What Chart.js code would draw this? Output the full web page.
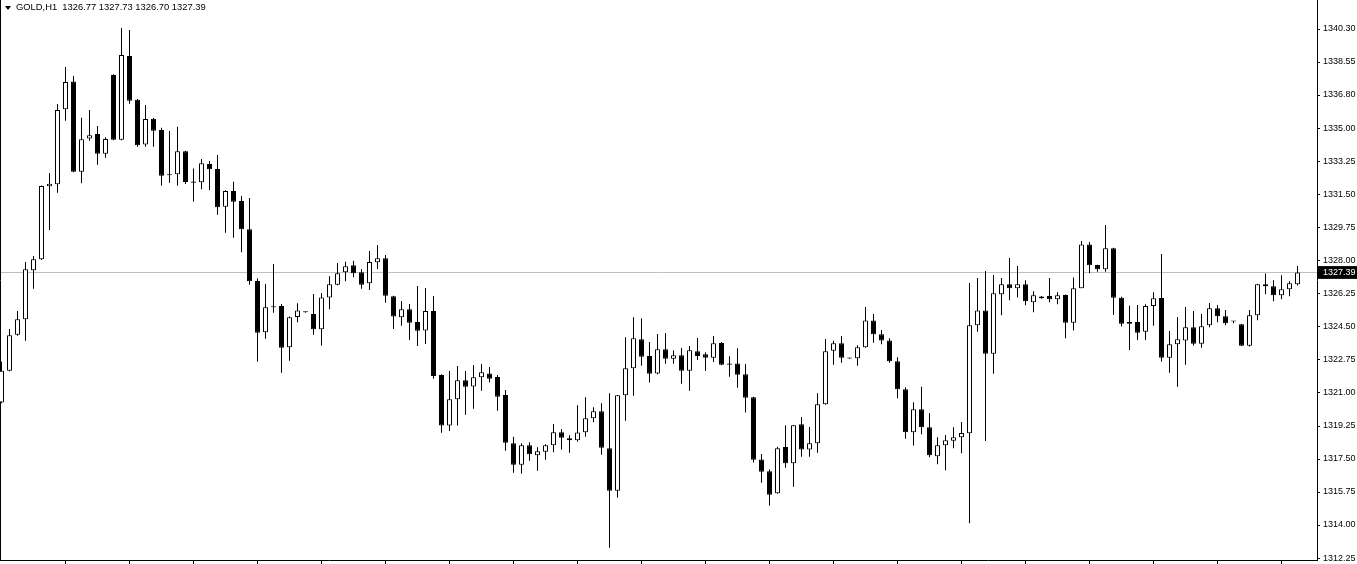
<!DOCTYPE html>
<html>
<head>
<meta charset="utf-8">
<script src="https://cdn.jsdelivr.net/npm/chart.js@4.4.1/dist/chart.umd.min.js"></script>
<style>
html,body{margin:0;padding:0;background:#fff;overflow:hidden}
#wrap{position:relative;width:1357px;height:564px}
#c{position:absolute;left:0;top:0}
#tri{position:absolute;left:5px;top:6px;width:0;height:0;border-left:3px solid transparent;border-right:3px solid transparent;border-top:4px solid #000}
#ttl{position:absolute;left:16px;top:1.5px;font:9.4px "Liberation Sans",Arial,sans-serif;line-height:10px;color:#000;white-space:pre}
</style>
</head>
<body>
<div id="wrap">
<canvas id="c" width="1357" height="564"></canvas>
<div id="tri"></div>
<div id="ttl"></div>
</div>
<script>
const symbol = 'GOLD,H1';

const opens = [
1320.49,1322.18,1324.09,1324.91,1327.51,1328.09,1331.96,1332.07,1336.04,1337.51,
1332.73,1334.50,1334.73,1333.69,1337.86,1334.43,1338.87,1336.55,1334.17,1335.54,
1334.94,1332.60,1332.60,1333.82,1332.22,1332.17,1333.14,1332.88,1330.88,1331.71,
1331.18,1329.68,1326.94,1324.22,1325.58,1325.61,1323.42,1325.03,1325.28,1325.19,
1324.38,1326.07,1326.74,1327.40,1327.77,1327.40,1326.82,1327.93,1328.14,1326.13,
1325.01,1325.44,1324.76,1324.32,1325.35,1321.95,1319.27,1320.67,1321.67,1321.35,
1321.83,1322.04,1321.85,1320.89,1318.33,1317.20,1318.23,1317.70,1317.89,1318.23,
1318.92,1318.60,1318.49,1318.92,1319.66,1320.03,1318.07,1315.82,1320.88,1322.31,
1323.85,1322.96,1322.04,1323.32,1322.82,1323.00,1322.18,1323.21,1323.05,1322.87,
1323.65,1322.56,1322.57,1321.99,1320.77,1317.48,1316.85,1315.68,1318.14,1317.27,
1319.34,1318.01,1318.33,1320.40,1323.24,1323.64,1322.84,1322.84,1323.42,1324.85,
1324.11,1323.79,1322.68,1321.20,1318.92,1320.14,1319.18,1317.64,1318.23,1318.47,
1318.65,1318.86,1324.59,1325.38,1323.08,1326.23,1326.76,1326.55,1326.76,1325.81,
1326.02,1326.14,1325.97,1326.20,1324.73,1326.55,1328.88,1327.79,1327.56,1328.67,
1326.05,1324.76,1324.76,1324.25,1325.61,1326.04,1322.87,1323.58,1323.79,1324.48,
1323.61,1324.59,1325.49,1325.07,1324.81,1324.64,1323.51,1325.12,1326.76,1326.66,
1326.18,1326.50,1326.77
];
const highs = [
1322.66,1324.39,1325.35,1327.95,1328.26,1332.00,1332.66,1336.32,1338.29,1337.81,
1335.60,1336.01,1335.16,1334.56,1337.90,1340.35,1340.25,1336.59,1336.27,1335.58,
1335.07,1334.89,1335.12,1333.85,1332.91,1333.41,1333.30,1333.62,1331.75,1332.20,
1331.45,1331.34,1327.08,1326.78,1327.84,1325.72,1325.05,1325.76,1325.32,1326.25,
1326.30,1327.19,1327.89,1327.96,1328.01,1327.57,1328.53,1328.85,1328.32,1326.15,
1325.88,1325.72,1326.67,1326.57,1326.14,1322.00,1322.17,1322.43,1322.17,1322.48,
1322.54,1322.38,1321.95,1321.16,1318.68,1318.33,1318.39,1318.12,1318.28,1319.36,
1319.09,1318.76,1320.35,1320.77,1320.24,1320.45,1320.98,1320.90,1323.95,1325.01,
1324.96,1323.70,1324.13,1324.18,1323.26,1323.39,1323.49,1323.92,1323.16,1324.02,
1323.70,1322.95,1323.37,1322.54,1320.80,1317.77,1316.95,1318.15,1319.29,1319.30,
1319.73,1319.20,1320.99,1323.86,1323.77,1324.02,1322.86,1323.53,1325.56,1325.19,
1324.34,1323.90,1322.89,1321.30,1320.51,1321.33,1319.94,1318.65,1318.77,1319.18,
1319.46,1326.83,1327.10,1327.47,1327.26,1327.10,1328.16,1327.73,1326.98,1326.39,
1326.14,1327.10,1326.34,1326.22,1327.13,1329.06,1329.01,1327.80,1329.91,1328.70,
1326.10,1325.63,1325.67,1325.70,1326.34,1328.37,1324.29,1325.03,1325.56,1325.35,
1325.19,1325.77,1325.67,1325.40,1324.82,1324.66,1325.40,1326.78,1327.33,1326.98,
1327.24,1326.93,1327.73
];
const lows = [
1320.45,1322.15,1324.04,1323.77,1326.53,1328.05,1329.64,1331.62,1335.44,1332.70,
1332.12,1334.38,1333.10,1333.48,1334.40,1334.40,1336.34,1334.06,1334.06,1334.06,
1331.99,1332.15,1331.99,1332.08,1331.14,1331.80,1331.76,1330.45,1329.50,1329.23,
1328.46,1326.74,1322.66,1323.88,1325.26,1322.08,1322.71,1324.75,1325.25,1324.09,
1323.51,1325.44,1326.71,1326.92,1327.14,1326.53,1326.46,1327.57,1325.79,1324.39,
1324.57,1323.81,1323.49,1323.60,1321.76,1318.89,1318.99,1319.27,1319.85,1320.17,
1321.12,1321.55,1320.06,1317.94,1316.77,1316.72,1317.41,1316.88,1317.46,1317.86,
1317.99,1317.83,1318.42,1318.68,1319.45,1317.73,1312.80,1315.45,1319.53,1320.86,
1322.45,1321.55,1322.00,1322.55,1322.55,1321.49,1321.12,1322.75,1322.17,1322.64,
1322.47,1321.86,1321.28,1319.96,1317.31,1316.24,1315.02,1315.66,1317.04,1316.03,
1317.62,1317.62,1317.83,1320.38,1322.50,1322.61,1322.82,1322.45,1323.40,1323.67,
1323.58,1322.61,1320.72,1318.58,1318.21,1318.81,1317.59,1317.22,1316.90,1318.07,
1317.80,1314.09,1324.25,1318.45,1322.02,1325.12,1325.92,1326.07,1325.65,1325.28,
1326.00,1325.81,1325.70,1323.90,1324.32,1326.55,1327.35,1327.43,1327.43,1325.14,
1324.52,1323.28,1323.81,1323.81,1324.57,1322.66,1322.08,1321.33,1322.50,1323.51,
1323.40,1324.48,1324.75,1324.59,1324.70,1323.49,1323.46,1324.86,1326.23,1325.86,
1325.97,1326.13,1326.70
];
const closes = [
1322.18,1324.06,1324.91,1327.56,1328.09,1331.98,1332.10,1336.01,1337.49,1332.73,
1334.45,1334.66,1333.69,1334.47,1334.43,1338.92,1336.50,1334.13,1335.53,1334.91,
1332.52,1332.55,1333.82,1332.19,1332.15,1333.18,1332.86,1330.85,1331.71,1331.14,
1329.68,1326.92,1324.20,1325.54,1325.55,1323.40,1325.01,1325.38,1325.30,1324.38,
1326.07,1326.76,1327.35,1327.72,1327.35,1326.74,1327.95,1328.14,1326.16,1325.05,
1325.44,1324.73,1324.30,1325.35,1321.90,1319.27,1320.67,1321.67,1321.33,1321.83,
1322.10,1321.76,1320.80,1318.36,1317.20,1318.23,1317.75,1317.91,1318.23,1318.92,
1318.63,1318.49,1318.90,1319.66,1320.03,1318.10,1315.82,1320.88,1322.31,1323.90,
1322.92,1322.02,1323.32,1322.82,1323.00,1322.18,1323.26,1322.96,1322.87,1323.64,
1322.50,1322.50,1321.97,1320.75,1317.46,1316.83,1315.61,1318.07,1317.27,1319.29,
1318.01,1318.33,1320.40,1323.21,1323.64,1322.87,1322.83,1323.42,1324.85,1324.11,
1323.79,1322.68,1321.20,1318.92,1320.14,1319.18,1317.70,1318.23,1318.49,1318.65,
1318.88,1324.59,1325.38,1323.08,1326.29,1326.76,1326.55,1326.76,1325.86,1326.18,
1326.12,1325.97,1326.18,1324.73,1326.55,1328.88,1327.77,1327.56,1328.67,1326.05,
1324.67,1324.67,1324.20,1325.61,1326.02,1322.87,1323.58,1323.85,1324.48,1323.61,
1324.54,1325.49,1325.07,1324.70,1324.79,1323.51,1325.12,1326.76,1326.66,1326.18,
1326.50,1326.82,1327.39
];

const priceTicks = [1340.30,1338.55,1336.80,1335.00,1333.25,1331.50,1329.75,1328.00,
  1326.25,1324.50,1322.75,1321.00,1319.25,1317.50,1315.75,1314.00,1312.25];
const currentPrice = closes[closes.length - 1];
const barsPerTimeTick = 8;
const priceMin = 1312.145;
const priceMax = 1341.838;

const n = opens.length;
const last = n - 1;
document.getElementById('ttl').textContent =
  symbol + '  ' + [opens[last], highs[last], lows[last], closes[last]].map(v => v.toFixed(2)).join(' ');

const idx = opens.map((_, i) => i);
const wickData = idx.map(i => ({x: i, y: [lows[i], highs[i]]}));
const bodyData = idx.map(i => ({x: i, y: [Math.min(opens[i], closes[i]), Math.max(opens[i], closes[i])]}));
const isUp = i => i !== undefined && closes[i] > opens[i];

const timeTicks = [];
for (let i = barsPerTimeTick; i < n; i += barsPerTimeTick) timeTicks.push(i);

const zeroPad = s => { s.paddingLeft = 0; s.paddingRight = 0; s.paddingTop = 0; s.paddingBottom = 0; };
const isCur = c => c.tick && Math.abs(c.tick.value - currentPrice) < 1e-9;

new Chart(document.getElementById('c'), {
  type: 'bar',
  data: {
    datasets: [
      {
        label: 'body', data: bodyData, order: 1, grouped: false,
        barThickness: 5, maxBarThickness: 5, minBarLength: 1,
        borderWidth: 1, borderSkipped: false, inflateAmount: 0, borderRadius: 0,
        borderColor: '#000',
        backgroundColor: c => isUp(c.dataIndex) ? '#fff' : '#000'
      },
      {
        label: 'wick', data: wickData, order: 2, grouped: false,
        barThickness: 1, maxBarThickness: 1, minBarLength: 1,
        borderWidth: 0, inflateAmount: 0, backgroundColor: '#000'
      }
    ]
  },
  options: {
    responsive: false,
    animation: false,
    devicePixelRatio: 1,
    layout: { padding: 0 },
    events: [],
    plugins: { legend: { display: false }, tooltip: { enabled: false } },
    scales: {
      x: {
        type: 'linear', position: 'bottom', offset: false, bounds: 'data',
        min: -(1.5 / 8), max: 164.4375,
        afterBuildTicks: s => { s.ticks = timeTicks.map(v => ({value: v})); },
        afterFit: s => { s.height = 4; zeroPad(s); },
        ticks: { display: false },
        grid: { offset: false, drawOnChartArea: false, drawTicks: true, tickLength: 4, color: '#000', lineWidth: 1 },
        border: { display: true, color: '#000', width: 1 }
      },
      y: {
        type: 'linear', position: 'right', bounds: 'data', beginAtZero: false,
        min: priceMin, max: priceMax,
        afterBuildTicks: s => { s.ticks = priceTicks.concat([currentPrice]).map(v => ({value: v})); },
        afterFit: s => { s.width = 40; zeroPad(s); },
        ticks: {
          autoSkip: false,
          padding: 3,
          font: { family: 'Liberation Sans', size: 9 },
          color: c => isCur(c) ? '#fff' : '#000',
          showLabelBackdrop: c => isCur(c),
          backdropColor: '#000',
          backdropPadding: { top: 1, bottom: 1, left: 5, right: 2 },
          callback: v => Number(v).toFixed(2)
        },
        grid: {
          drawOnChartArea: true, drawTicks: true, tickLength: 3, lineWidth: 1,
          color: c => isCur(c) ? '#c0c0c0' : 'rgba(0,0,0,0)',
          tickColor: c => isCur(c) ? 'rgba(0,0,0,0)' : '#000'
        },
        border: { display: true, color: '#000', width: 1 }
      },
      yl: {
        type: 'linear', position: 'left', display: true,
        afterFit: s => { s.width = 0; zeroPad(s); },
        ticks: { display: false },
        grid: { drawOnChartArea: false, drawTicks: false },
        border: { display: true, color: '#000', width: 1 }
      }
    }
  }
});
</script>
</body>
</html>
